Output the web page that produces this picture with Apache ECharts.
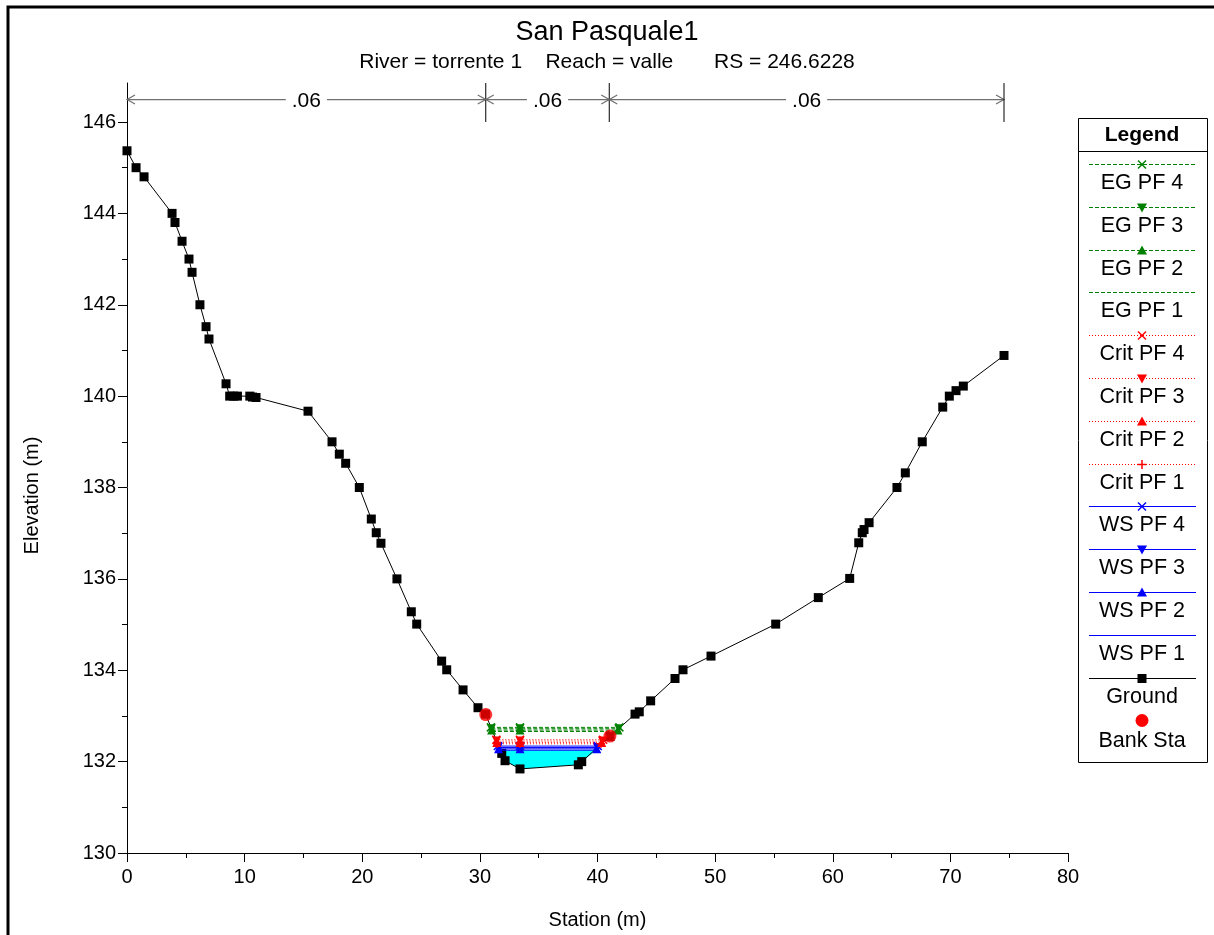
<!DOCTYPE html>
<html><head><meta charset="utf-8">
<script src="https://cdn.jsdelivr.net/npm/echarts@6/dist/echarts.min.js"></script>
<style>html,body{margin:0;padding:0;background:#fff}#c{width:1214px;height:935px}</style>
</head><body><div id="c"></div>
<script>
// ---- data ----
const groundX = [0,0.77,1.45,3.83,4.08,4.68,5.27,5.53,6.2,6.72,6.97,8.42,8.73,9.07,9.39,10.44,10.67,10.97,15.39,17.43,18.05,18.59,19.75,20.77,21.19,21.59,22.95,24.17,24.63,26.75,27.18,28.57,29.84,30.48,31.86,32.14,33.41,38.37,38.66,41.06,43.19,43.55,44.52,46.59,47.27,49.65,55.15,58.77,61.44,62.21,62.51,62.66,63.09,65.46,66.17,67.61,69.35,69.91,70.48,71.1,74.56];
const groundY = [145.37,145.0,144.8,144.0,143.8,143.39,143.0,142.71,142.0,141.52,141.25,140.27,140.0,140.0,140.0,140.0,139.98,139.97,139.67,139.0,138.73,138.53,138.0,137.31,137.01,136.78,136.0,135.28,135.01,134.2,134.01,133.57,133.18,133.04,132.18,132.02,131.84,131.93,132.0,132.55,133.04,133.09,133.33,133.82,134.01,134.31,135.01,135.59,136.01,136.79,137.01,137.08,137.23,138.0,138.32,139.0,139.76,140.0,140.12,140.22,140.89];
const bankX = [30.5, 41.06];
const bankY = [133.03, 132.56];
const profileNums = [1, 2, 3, 4];
const wsLevel = [132.25, 132.28, 132.31, 132.34];
const wsLeft = [31.62, 31.59, 31.56, 31.53];
const wsRight = [39.90, 39.94, 39.98, 40.02];
const critLevel = [132.39, 132.42, 132.45, 132.48];
const critLeft = [31.46, 31.44, 31.42, 31.40];
const critRight = [40.30, 40.36, 40.42, 40.48];
const egLevel = [132.66, 132.69, 132.72, 132.75];
const egLeft = [31.03, 31.00, 30.97, 30.94];
const egRight = [41.68, 41.74, 41.80, 41.86];
const midStation = 33.41;
const nBreaks = [0, 30.5, 41.0, 74.56];
const nValues = ['.06', '.06', '.06'];
const titleText = 'San Pasquale1';
const subText = 'River = torrente 1    Reach = valle       RS = 246.6228';

// ---- styling ----
const FONT = 'Liberation Sans, Arial, sans-serif';
const SYM = {
  x: 'path://M0,0L10,10M10,0L0,10',
  plus: 'path://M5,0L5,10M0,5L10,5',
  up: 'triangle',
  down: 'triangle'
};
const groups = [
  {prefix: 'EG', color: '#008000', dash: [4, 2], level: egLevel, left: egLeft, right: egRight, syms: {4: 'x', 3: 'down', 2: 'up', 1: null}, z: 6},
  {prefix: 'Crit', color: '#FF0000', dash: [1, 2], level: critLevel, left: critLeft, right: critRight, syms: {4: 'x', 3: 'down', 2: 'up', 1: 'plus'}, z: 5},
  {prefix: 'WS', color: '#0000FF', dash: 'solid', level: wsLevel, left: wsLeft, right: wsRight, syms: {4: 'x', 3: 'down', 2: 'up', 1: null}, z: 4}
];

const series = [];
// water fill below WS PF 1
const waterPts = [[wsLeft[0], wsLevel[0]]];
for (let i = 0; i < groundX.length; i++) {
  if (groundX[i] > wsLeft[0] && groundX[i] < wsRight[0]) waterPts.push([groundX[i], groundY[i]]);
}
waterPts.push([wsRight[0], wsLevel[0]]);
series.push({
  type: 'custom', name: 'water', xAxisIndex: 0, yAxisIndex: 0, z: 1,
  data: waterPts, encode: {x: 0, y: 1}, silent: true,
  renderItem: function (params, api) {
    if (params.dataIndex !== 0) return null;
    return {type: 'polygon', shape: {points: waterPts.map(p => api.coord(p))}, style: {fill: '#00FFFF', stroke: null}};
  }
});
series.push({
  type: 'line', name: 'Ground', xAxisIndex: 0, yAxisIndex: 0, z: 3,
  data: groundX.map((x, i) => [x, groundY[i]]),
  symbol: 'rect', symbolSize: 9,
  lineStyle: {color: '#000', width: 1}, itemStyle: {color: '#000'}
});
const legendEntries = [];
groups.forEach(g => {
  [3, 2, 1, 0].forEach(k => {
    const num = profileNums[k];
    const sname = g.syms[num];
    const lvl = g.level[k];
    const name = g.prefix + ' PF ' + num;
    legendEntries.push({name: name, color: g.color, dash: g.dash, sym: sname});
    series.push({
      type: 'line', name: name, xAxisIndex: 0, yAxisIndex: 0, z: g.z,
      data: [[g.left[k], lvl], [midStation, lvl], [g.right[k], lvl]],
      symbol: sname ? SYM[sname] : 'none',
      symbolRotate: sname === 'down' ? 180 : 0,
      symbolSize: sname === 'x' || sname === 'plus' ? 8 : 9,
      lineStyle: {color: g.color, width: 1, type: g.dash},
      itemStyle: {color: g.color, borderColor: g.color, borderWidth: (sname === 'x' || sname === 'plus') ? 1.5 : 0}
    });
  });
});
legendEntries.push({name: 'Ground', color: '#000', dash: 'solid', sym: 'square'});
legendEntries.push({name: 'Bank Sta', color: '#FF0000', dash: null, sym: 'circle'});
series.push({
  type: 'scatter', name: 'Bank Sta', xAxisIndex: 0, yAxisIndex: 0, z: 7,
  data: bankX.map((x, i) => [x, bankY[i]]),
  symbol: 'circle', symbolSize: 13, itemStyle: {color: '#FF0000'}
});
// Manning's n annotation in the top strip
series.push({
  type: 'custom', name: 'n', xAxisIndex: 1, yAxisIndex: 1, silent: true,
  data: nValues.map((v, i) => [nBreaks[i], nBreaks[i + 1], v]),
  renderItem: function (params, api) {
    const s = api.value(0), e = api.value(1);
    const label = nValues[params.dataIndex];
    const a = api.coord([s, 0.575]), b = api.coord([e, 0.575]);
    const top = api.coord([e, 1]), bot = api.coord([e, 0]);
    const y = a[1];
    const gray = '#707070';
    return {type: 'group', children: [
      {type: 'line', shape: {x1: a[0], y1: y, x2: b[0], y2: y}, style: {stroke: gray, lineWidth: 1.2}},
      {type: 'polyline', shape: {points: [[a[0] + 8, y - 4.5], [a[0], y], [a[0] + 8, y + 4.5]]}, style: {stroke: gray, lineWidth: 1.2, fill: null}},
      {type: 'polyline', shape: {points: [[b[0] - 8, y - 4.5], [b[0], y], [b[0] - 8, y + 4.5]]}, style: {stroke: gray, lineWidth: 1.2, fill: null}},
      {type: 'line', shape: {x1: top[0], y1: top[1], x2: bot[0], y2: bot[1]}, style: {stroke: '#000', lineWidth: 1}},
      {type: 'text', x: (a[0] + b[0]) / 2, y: y + 2, style: {text: label, fill: '#000', font: '21px ' + FONT, align: 'center', verticalAlign: 'middle', backgroundColor: '#fff', padding: [0, 6]}}
    ]};
  }
});

// ---- legend (drawn as graphic) ----
const LG = {left: 1078, top: 118, right: 1207, bottom: 762, lineX1: 1089, lineX2: 1196, cx: 1142, first: 164, step: 42.8, textOff: 19};
const graphics = [];
graphics.push({type: 'rect', shape: {x: 8, y: 7, width: 1230, height: 960}, style: {fill: null, stroke: '#000', lineWidth: 3}, silent: true});
graphics.push({type: 'rect', shape: {x: LG.left + 0.5, y: LG.top + 0.5, width: LG.right - LG.left, height: LG.bottom - LG.top}, style: {fill: '#fff', stroke: '#000', lineWidth: 1}});
graphics.push({type: 'text', x: LG.cx, y: 135, style: {text: 'Legend', font: 'bold 21px ' + FONT, fill: '#000', align: 'center', verticalAlign: 'middle'}});
graphics.push({type: 'line', shape: {x1: LG.left, y1: 151.5, x2: LG.right, y2: 151.5}, style: {stroke: '#000', lineWidth: 1}});
function markerShape(sym, cx, cy, color) {
  const st = {stroke: color, lineWidth: 1.5, fill: null};
  if (sym === 'x') return [
    {type: 'line', shape: {x1: cx - 4, y1: cy - 4, x2: cx + 4, y2: cy + 4}, style: st},
    {type: 'line', shape: {x1: cx + 4, y1: cy - 4, x2: cx - 4, y2: cy + 4}, style: st}];
  if (sym === 'plus') return [
    {type: 'line', shape: {x1: cx, y1: cy - 4.5, x2: cx, y2: cy + 4.5}, style: st},
    {type: 'line', shape: {x1: cx - 4.5, y1: cy, x2: cx + 4.5, y2: cy}, style: st}];
  if (sym === 'up') return [{type: 'polygon', shape: {points: [[cx - 5, cy + 4], [cx + 5, cy + 4], [cx, cy - 5]]}, style: {fill: color}}];
  if (sym === 'down') return [{type: 'polygon', shape: {points: [[cx - 5, cy - 4], [cx + 5, cy - 4], [cx, cy + 5]]}, style: {fill: color}}];
  if (sym === 'square') return [{type: 'rect', shape: {x: cx - 4.5, y: cy - 4.5, width: 9, height: 9}, style: {fill: color}}];
  if (sym === 'circle') return [{type: 'circle', shape: {cx: cx, cy: cy, r: 6.5}, style: {fill: color}}];
  return [];
}
legendEntries.forEach((en, i) => {
  const ly = Math.round(LG.first + i * LG.step) + 0.5;
  if (en.dash) {
    graphics.push({type: 'line', shape: {x1: LG.lineX1, y1: ly, x2: LG.lineX2, y2: ly},
      style: {stroke: en.color, lineWidth: 1, lineDash: en.dash === 'solid' ? null : en.dash}});
  }
  markerShape(en.sym, LG.cx, ly, en.color).forEach(s => graphics.push(s));
  graphics.push({type: 'text', x: LG.cx, y: ly + LG.textOff + (en.sym === 'circle' ? 2 : 0),
    style: {text: en.name, font: '21.5px ' + FONT, fill: '#000', align: 'center', verticalAlign: 'middle'}});
});

const axisCommon = {
  axisLine: {show: true, lineStyle: {color: '#000', width: 1}},
  axisTick: {show: true, length: 9, lineStyle: {color: '#000'}},
  minorTick: {show: true, splitNumber: 2, length: 5, lineStyle: {color: '#000'}},
  splitLine: {show: false},
  axisLabel: {color: '#000', fontSize: 20, fontFamily: FONT}
};

const option = {
  animation: false,
  backgroundColor: '#fff',
  title: [
    {text: titleText, left: 'center', top: 14, textStyle: {fontSize: 27, fontWeight: 'normal', color: '#000', fontFamily: FONT}},
    {text: subText, left: 'center', top: 47, textStyle: {fontSize: 21, fontWeight: 'normal', color: '#000', fontFamily: FONT}}
  ],
  grid: [
    {left: 127, top: 122, width: 941, height: 735},
    {left: 127, top: 83, width: 941, height: 39}
  ],
  xAxis: [
    Object.assign({}, axisCommon, {type: 'value', gridIndex: 0, min: 0, max: 80, interval: 10,
      name: 'Station (m)', nameLocation: 'middle', nameGap: 57,
      nameTextStyle: {fontSize: 20, color: '#000', fontFamily: FONT},
      axisLabel: Object.assign({}, axisCommon.axisLabel, {margin: 14})}),
    {type: 'value', gridIndex: 1, min: 0, max: 80, show: false}
  ],
  yAxis: [
    Object.assign({}, axisCommon, {type: 'value', gridIndex: 0, min: 130, max: 146, interval: 2,
      name: 'Elevation (m)', nameLocation: 'middle', nameGap: 85,
      nameTextStyle: {fontSize: 20, color: '#000', fontFamily: FONT, padding: [0, 16, 0, 0]},
      axisLabel: Object.assign({}, axisCommon.axisLabel, {margin: 11})}),
    {type: 'value', gridIndex: 1, min: 0, max: 1,
      axisLine: {show: true, lineStyle: {color: '#000', width: 1}},
      axisTick: {show: false}, axisLabel: {show: false}, splitLine: {show: false}}
  ],
  graphic: {elements: graphics},
  series: series
};
const chart = echarts.init(document.getElementById('c'), null, {renderer: 'canvas'});
chart.setOption(option);
</script>
</body></html>
